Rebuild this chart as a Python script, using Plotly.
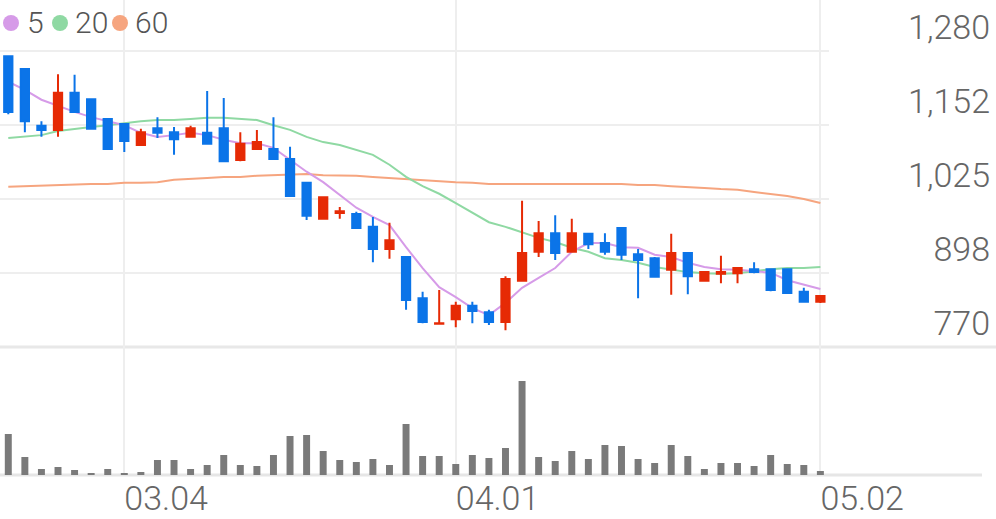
import plotly.graph_objects as go

# ---------------- data ----------------
dates = [
    "2024-02-21", "2024-02-22", "2024-02-23", "2024-02-26", "2024-02-27", "2024-02-28", "2024-02-29",
    "2024-03-04", "2024-03-05", "2024-03-06", "2024-03-07", "2024-03-08", "2024-03-11", "2024-03-12",
    "2024-03-13", "2024-03-14", "2024-03-15", "2024-03-18", "2024-03-19", "2024-03-20", "2024-03-21",
    "2024-03-22", "2024-03-25", "2024-03-26", "2024-03-27", "2024-03-28", "2024-03-29",
    "2024-04-01", "2024-04-02", "2024-04-03", "2024-04-04", "2024-04-05", "2024-04-08", "2024-04-09",
    "2024-04-10", "2024-04-11", "2024-04-12", "2024-04-15", "2024-04-16", "2024-04-17", "2024-04-18",
    "2024-04-19", "2024-04-22", "2024-04-23", "2024-04-24", "2024-04-25", "2024-04-26", "2024-04-29",
    "2024-04-30", "2024-05-02",
]

open_ = [1271, 1249, 1151, 1144, 1208, 1197, 1163, 1154, 1118, 1147,
         1140, 1132, 1139, 1147, 1092, 1111, 1111, 1094, 1053, 991,
         1001, 999, 977, 939, 925, 854, 810, 818, 841, 830,
         813, 884, 934, 966, 934, 965, 949, 975, 930, 923,
         903, 932, 884, 896, 897, 904, 904, 904, 865, 848]
high = [1271, 1249, 1159, 1240, 1239, 1198, 1163, 1154, 1146, 1166,
        1149, 1151, 1211, 1199, 1140, 1144, 1166, 1115, 1053, 1028,
        1011, 1003, 994, 984, 925, 865, 868, 848, 848, 834,
        892, 1022, 987, 997, 991, 966, 966, 975, 939, 925,
        965, 932, 901, 927, 908, 916, 904, 904, 872, 858]
low = [1171, 1140, 1132, 1132, 1173, 1145, 1110, 1106, 1118, 1130,
       1101, 1132, 1120, 1090, 1090, 1111, 1094, 1030, 989, 991,
       991, 975, 916, 922, 834, 811, 809, 804, 811, 808,
       799, 884, 925, 920, 934, 939, 929, 920, 854, 890,
       860, 861, 884, 880, 880, 897, 866, 862, 848, 846]
close = [1175, 1159, 1144, 1208, 1175, 1146, 1111, 1125, 1140, 1139,
         1128, 1147, 1120, 1090, 1120, 1123, 1094, 1030, 996, 1028,
         1004, 975, 939, 954, 851, 813, 811, 841, 832, 813,
         887, 932, 966, 932, 966, 947, 934, 929, 920, 891,
         932, 892, 899, 899, 906, 899, 868, 863, 848, 858]

ma5 = [1227, 1213, 1196, 1185, 1175, 1166, 1159, 1152, 1139, 1132,
       1135, 1139, 1135, 1127, 1121, 1121, 1113, 1092, 1072, 1054,
       1032, 1010, 994, 980, 942, 906, 873, 856, 837, 825,
       846, 872, 889, 906, 934, 949, 949, 942, 941, 929,
       925, 915, 908, 904, 903, 901, 898, 885, 877, 870]
ma20 = [1130, 1132, 1135, 1142, 1146, 1149, 1152, 1156, 1159, 1161,
        1161, 1163, 1165, 1165, 1163, 1161, 1152, 1144, 1132, 1123,
        1118, 1109, 1101, 1084, 1063, 1047, 1034, 1018, 1001, 985,
        977, 968, 958, 951, 941, 934, 923, 920, 915, 908,
        904, 899, 897, 896, 897, 901, 904, 906, 906, 908]
ma60 = [1046, 1047, 1049, 1049, 1051, 1051, 1051, 1053, 1053, 1054,
        1058, 1059, 1061, 1063, 1063, 1065, 1066, 1068, 1068, 1066,
        1066, 1065, 1063, 1061, 1059, 1058, 1056, 1054, 1053, 1051,
        1051, 1051, 1051, 1051, 1051, 1051, 1051, 1051, 1049, 1049,
        1047, 1046, 1044, 1042, 1041, 1037, 1034, 1030, 1025, 1018]

volume = [410, 180, 60, 80, 50, 20, 60, 20, 30, 150,
          150, 60, 100, 200, 100, 90, 200, 390, 400, 240,
          150, 130, 160, 100, 510, 190, 190, 110, 200, 170,
          270, 940, 180, 140, 240, 160, 300, 290, 160, 120,
          300, 190, 60, 120, 120, 90, 200, 110, 100, 40]

price_ticks = [770, 897.5, 1025, 1152.5, 1280]
price_tick_labels = ["770", "898", "1,025", "1,152", "1,280"]
date_ticks = ["2024-03-04", "2024-04-01", "2024-05-02"]
date_tick_labels = ["03.04", "04.01", "05.02"]
legend_labels = ["5", "20", "60"]

# ---------------- styles ----------------
UP = "#e62a05"
DOWN = "#0b74e8"
C_MA5 = "#d69be8"
C_MA20 = "#8fd9a3"
C_MA60 = "#f6a57f"
GRID = "#eeeeee"
TXT = "#666666"
FONT = "Roboto"

W, H = 996, 519
def py(px):
    return (H - px) / H
def pxx(px):
    return px / W

fig = go.Figure()

for vals, col in [(ma60, C_MA60), (ma20, C_MA20), (ma5, C_MA5)]:
    fig.add_trace(go.Scatter(x=dates, y=vals, mode="lines", line=dict(color=col, width=2),
                             xaxis="x", yaxis="y", showlegend=False, hoverinfo="skip"))

fig.add_trace(go.Candlestick(
    x=dates, open=open_, high=high, low=low, close=close,
    increasing=dict(line=dict(color=UP, width=2), fillcolor=UP),
    decreasing=dict(line=dict(color=DOWN, width=2), fillcolor=DOWN),
    whiskerwidth=0, xaxis="x", yaxis="y3", showlegend=False))

fig.add_trace(go.Bar(x=dates, y=volume, marker=dict(color="#7a7a7a", line=dict(width=0)),
                     xaxis="x2", yaxis="y2", showlegend=False))

price_range = [770, 1367.8]
xdom = [0, 0.832]

fig.update_layout(
    template="none",
    width=W, height=H,
    margin=dict(l=0, r=0, t=0, b=0, pad=0, autoexpand=False),
    paper_bgcolor="white", plot_bgcolor="white",
    font=dict(family=FONT, color=TXT),
    boxgap=0.5, boxgroupgap=0, bargap=0.58,
    xaxis=dict(domain=xdom, anchor="y", type="category", range=[-0.5, 49.5],
               tickvals=date_ticks, showticklabels=False, showgrid=True,
               gridcolor=GRID, gridwidth=2, zeroline=False, showline=False,
               rangeslider=dict(visible=False), ticks="", automargin=False),
    yaxis=dict(domain=[py(347), 1], range=price_range, anchor="free", position=0.994,
               side="left", tickvals=price_ticks, ticktext=price_tick_labels,
               ticklabelposition="outside top", showgrid=True, gridcolor=GRID, gridwidth=2,
               zeroline=False, showline=False, ticks="", automargin=False,
               tickfont=dict(size=34, color=TXT, family=FONT, weight=300)),
    yaxis3=dict(overlaying="y", range=price_range, anchor="x", visible=False,
                showgrid=False, zeroline=False, automargin=False),
    xaxis2=dict(domain=xdom, anchor="y2", type="category", range=[-0.5, 49.5],
                tickvals=date_ticks, ticktext=date_tick_labels,
                ticklabelposition="outside right", showgrid=True, gridcolor=GRID,
                gridwidth=2, zeroline=False, showline=False, ticks="", automargin=False,
                tickfont=dict(size=34, color=TXT, family=FONT, weight=300)),
    yaxis2=dict(domain=[py(475), py(347)], range=[0, 1280], visible=False,
                showgrid=False, zeroline=False, automargin=False),
)

shapes = [
    dict(type="line", xref="paper", yref="paper", x0=0, x1=1, y0=py(347), y1=py(347),
         line=dict(color="#e8e8e8", width=3), layer="below"),
    dict(type="line", xref="paper", yref="paper", x0=0, x1=pxx(982), y0=py(475), y1=py(475),
         line=dict(color="#e6e6e6", width=3), layer="below"),
]
legend_cols = [C_MA5, C_MA20, C_MA60]
circle_cx = [11, 60, 120]
text_x = [25, 73, 133]
for cx, col in zip(circle_cx, legend_cols):
    shapes.append(dict(type="circle", xref="paper", yref="paper",
                       x0=pxx(cx - 8), x1=pxx(cx + 8), y0=py(31), y1=py(15),
                       fillcolor=col, line=dict(width=0)))
fig.update_layout(shapes=shapes)

for tx, lab in zip(text_x, legend_labels):
    fig.add_annotation(x=pxx(tx), y=py(23), xref="paper", yref="paper", text=lab,
                       showarrow=False, xanchor="left", yanchor="middle",
                       font=dict(size=30, color="#555555", family=FONT, weight=300))

fig.write_html(
    "out.html",
    config={"displayModeBar": False, "staticPlot": True},
    post_script="document.body.style.margin='0px';document.documentElement.style.overflow='hidden';",
)
